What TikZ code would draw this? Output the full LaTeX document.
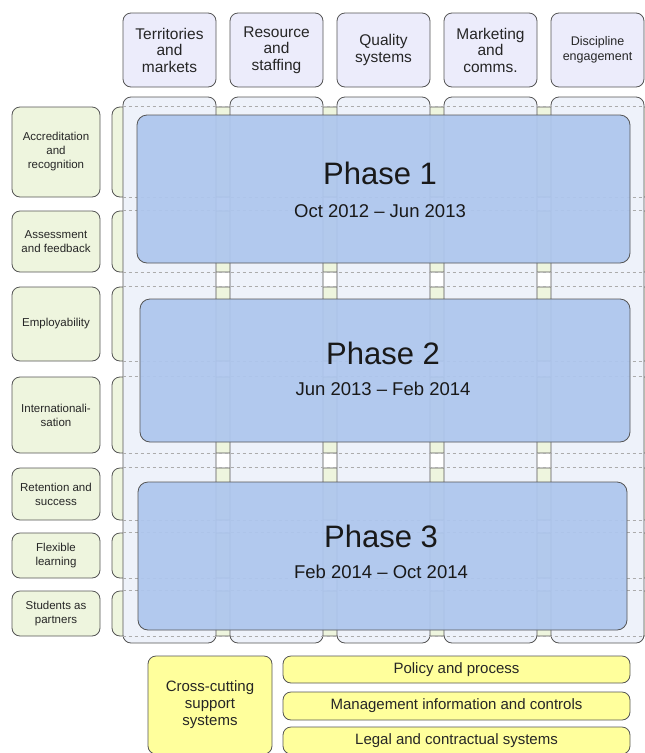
\documentclass[tikz,border=0pt]{standalone}
\usepackage{fontspec}
\setmainfont{Liberation Sans}
\definecolor{hdrfill}{HTML}{ECECFB}
\definecolor{rowfill}{HTML}{EEF5DE}
\definecolor{colfill}{HTML}{EEF2FA}
\definecolor{phfill}{HTML}{AEC6EE}
\definecolor{yel}{HTML}{FFFF9C}
\definecolor{edge}{HTML}{555555}
\begin{document}
\begin{tikzpicture}[x=1pt,y=-1pt,
  base/.style={draw=edge, line width=0.8pt, rounded corners=8pt, inner sep=0pt, align=center, text=black!85},
  hdr/.style={base, fill=hdrfill, minimum width=93pt, minimum height=74pt, font=\fontsize{15.5}{16.5}\selectfont},
  rowhdr/.style={base, fill=rowfill, minimum width=88pt, font=\fontsize{11.5}{14}\selectfont},
  rowbar/.style={base, fill=rowfill, minimum width=560pt},
  colbar/.style={base, fill=colfill, minimum width=93pt, minimum height=546pt},
  phase/.style={base, fill=phfill, fill opacity=0.93, rounded corners=10pt},
  ptitle/.style={inner sep=0pt, text=black!90, font=\fontsize{31}{31}\selectfont},
  pdate/.style={inner sep=0pt, text=black!90, font=\fontsize{18.5}{18.5}\selectfont},
  ybox/.style={base, fill=yel, font=\fontsize{15}{17}\selectfont},
  gridline/.style={draw=gray!65, dashed, line width=0.6pt}
]
\useasboundingbox (0,0) rectangle (645,753);
\clip (0,0) rectangle (645,753);

% column headers
\node[hdr] (h1) at (169.5,50) {Territories\\and\\markets};
\node[hdr] (h2) at (276.5,50) {Resource\\and\\staffing};
\node[hdr] (h3) at (383.5,50) {Quality\\systems};
\node[hdr] (h4) at (490.5,50) {Marketing\\and\\comms.};
\node[hdr, font=\fontsize{12.5}{15}\selectfont] (h5) at (597.5,50) {Discipline\\engagement};

% row bars (behind columns)
\node[rowbar, minimum height=90pt] (r1) at (392,152) {};
\node[rowbar, minimum height=61pt] (r2) at (392,241.5) {};
\node[rowbar, minimum height=74pt] (r3) at (392,324) {};
\node[rowbar, minimum height=76pt] (r4) at (392,415) {};
\node[rowbar, minimum height=52pt] (r5) at (392,494) {};
\node[rowbar, minimum height=45pt] (r6) at (392,555.5) {};
\node[rowbar, minimum height=45pt] (r7) at (392,613.5) {};

% columns
\node[colbar] (c1) at (169.5,370) {};
\node[colbar] (c2) at (276.5,370) {};
\node[colbar] (c3) at (383.5,370) {};
\node[colbar] (c4) at (490.5,370) {};
\node[colbar] (c5) at (597.5,370) {};

% row boundaries seen through the columns
\foreach \r in {r1,r2,r3,r4,r5,r6,r7}{
  \draw[gridline] (c1.west |- \r.north) -- (c5.east |- \r.north);
  \draw[gridline] (c1.west |- \r.south) -- (c5.east |- \r.south);
}

% row headers
\node[rowhdr, minimum height=90pt] (l1) at (56,152) {Accreditation\\and\\recognition};
\node[rowhdr, minimum height=61pt] (l2) at (56,241.5) {Assessment\\and feedback};
\node[rowhdr, minimum height=74pt] (l3) at (56,324) {Employability};
\node[rowhdr, minimum height=76pt] (l4) at (56,415) {Internationali-\\sation};
\node[rowhdr, minimum height=52pt] (l5) at (56,494) {Retention and\\success};
\node[rowhdr, minimum height=45pt] (l6) at (56,555.5) {Flexible\\learning};
\node[rowhdr, minimum height=45pt] (l7) at (56,613.5) {Students as\\partners};

% phases
\node[phase, minimum width=493pt, minimum height=148pt] (p1) at (383.5,189) {};
\node[phase, minimum width=490pt, minimum height=143pt] (p2) at (385,370.5) {};
\node[phase, minimum width=489pt, minimum height=148pt] (p3) at (382.5,556) {};
\node[ptitle] (p1t) at (380,173) {Phase 1};
\node[pdate]  (p1d) at (380,211) {Oct 2012 \textendash\ Jun 2013};
\node[ptitle] (p2t) at (383,353) {Phase 2};
\node[pdate]  (p2d) at (383,389) {Jun 2013 \textendash\ Feb 2014};
\node[ptitle] (p3t) at (381,536) {Phase 3};
\node[pdate]  (p3d) at (381,572) {Feb 2014 \textendash\ Oct 2014};

% cross-cutting support systems
\node[ybox, minimum width=124pt, minimum height=98pt] (cc) at (210,705) {Cross-cutting\\support\\systems};
\node[ybox, minimum width=347pt, minimum height=27pt] (s1) at (456.5,669.5) {Policy and process};
\node[ybox, minimum width=347pt, minimum height=28pt] (s2) at (456.5,706) {Management information and controls};
\node[ybox, minimum width=347pt, minimum height=27pt] (s3) at (456.5,740.5) {Legal and contractual systems};
\end{tikzpicture}
\end{document}
